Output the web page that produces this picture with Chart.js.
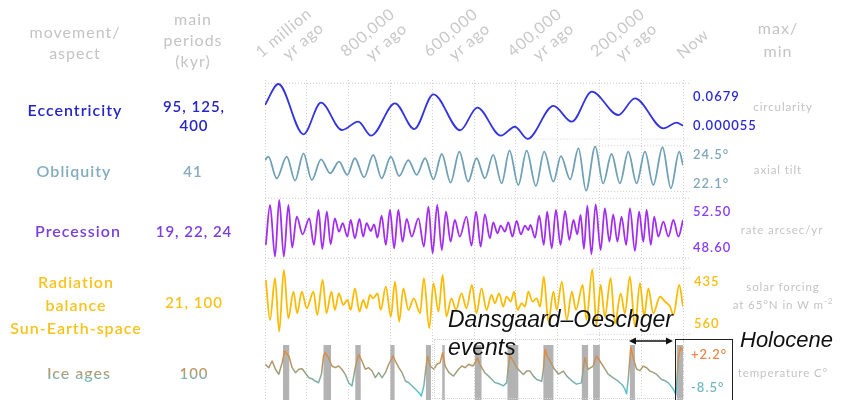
<!DOCTYPE html>
<html>
<head>
<meta charset="utf-8">
<script src="https://cdn.jsdelivr.net/npm/chart.js@4/dist/chart.umd.min.js"></script>
<style>
  body { margin: 0; width: 842px; height: 400px; overflow: hidden; position: relative; background: #fff;
         font-family: Lato, "Noto Sans", sans-serif; }
  #graphique { position: absolute; left: 0; top: 0; }
  .txt { position: absolute; white-space: nowrap; line-height: 1; letter-spacing: 1px; }
  .c { transform: translate(-50%, -50%); text-align: center; }
  .l { transform: translateY(-50%); }
  .gris { color: #c4c4c4; }
  .entete { font-size: 16px; line-height: 21px; }
  .nom { font-size: 16px; font-weight: 600; }
  .periode { font-size: 15px; line-height: 19px; font-weight: 600; }
  .valeur { font-size: 13px; font-weight: 600; }
  .desc { font-size: 11.5px; letter-spacing: 0.9px; }
  .tick { position: absolute; white-space: nowrap; font-size: 16px; line-height: 19px; letter-spacing: 0.8px;
          color: #c8c8c8; text-align: right; transform: translate(-50%, -50%) rotate(-40deg); }
  .glace { background: linear-gradient(#dd8748, #a9a079 55%, #6cc0c6); -webkit-background-clip: text;
           background-clip: text; color: transparent; }
  .note { position: absolute; white-space: nowrap; font-family: "Liberation Sans", Arial, sans-serif;
          font-style: italic; color: #111; }
</style>
</head>
<body>
<canvas id="graphique" width="842" height="400"></canvas>

<div class="txt c gris entete" style="left:75px;top:42px">movement/<br>aspect</div>
<div class="txt c gris entete" style="left:193px;top:39px">main<br>periods<br>(kyr)</div>
<div class="txt c gris entete" style="left:778px;top:39px;line-height:23px">max/<br>min</div>

<div class="txt c nom" style="left:75px;top:110px;color:#2626c6">Eccentricity</div>
<div class="txt c periode" style="left:194px;top:116px;color:#2626c6">95, 125,<br>400</div>
<div class="txt c nom" style="left:74px;top:171px;color:#83acbf">Obliquity</div>
<div class="txt c periode" style="left:193px;top:171px;color:#83acbf">41</div>
<div class="txt c nom" style="left:78px;top:231px;color:#7b3fdc">Precession</div>
<div class="txt c periode" style="left:194px;top:231px;color:#7b3fdc">19, 22, 24</div>
<div class="txt c nom" style="left:76px;top:304px;line-height:23px;color:#f7c31c">Radiation<br>balance<br>Sun-Earth-space</div>
<div class="txt c periode" style="left:194px;top:302px;color:#f7c31c">21, 100</div>
<div class="txt c nom" style="left:79px;top:373px"><span class="glace">Ice ages</span></div>
<div class="txt c periode" style="left:194px;top:373px"><span class="glace">100</span></div>

<div class="txt l valeur" style="left:693px;top:96px;color:#2a2ad6">0.0679</div>
<div class="txt l valeur" style="left:693px;top:125px;color:#2a2ad6">0.000055</div>
<div class="txt l valeur" style="left:693px;top:154px;color:#7fa8bd">24.5°</div>
<div class="txt l valeur" style="left:693px;top:183px;color:#7fa8bd">22.1°</div>
<div class="txt l valeur" style="left:693px;top:211px;color:#8a3ef0">52.50</div>
<div class="txt l valeur" style="left:693px;top:247px;color:#8a3ef0">48.60</div>
<div class="txt l valeur" style="left:694px;top:281px;color:#f8bd12">435</div>
<div class="txt l valeur" style="left:694px;top:323px;color:#f8bd12">560</div>
<div class="txt l valeur" style="left:691px;top:354px;color:#e8884a">+2.2°</div>
<div class="txt l valeur" style="left:691px;top:387px;color:#72bac0">-8.5°</div>

<div class="txt c gris desc" style="left:783px;top:107px">circularity</div>
<div class="txt c gris desc" style="left:778px;top:170px">axial tilt</div>
<div class="txt c gris desc" style="left:782px;top:230px">rate arcsec/yr</div>
<div class="txt c gris desc" style="left:783px;top:296px;line-height:14px">solar forcing<br>at 65°N in W m<sup style="font-size:8px">-2</sup></div>
<div class="txt c gris desc" style="left:783px;top:373px">temperature C°</div>

<div style="position:absolute;left:434px;top:339px;width:248px;height:58px;border:1px dotted #d4d4d4"></div>
<div class="note" style="left:448px;top:305px;font-size:23px;line-height:28px">Dansgaard–Oeschger<br>events</div>
<svg style="position:absolute;left:626px;top:334px" width="50" height="14">
  <line x1="5" y1="7" x2="45" y2="7" stroke="#111" stroke-width="1.5"/>
  <path d="M3 7 L10 3.5 L10 10.5 Z M47 7 L40 3.5 L40 10.5 Z" fill="#111"/>
</svg>
<div style="position:absolute;left:675px;top:339px;width:56px;height:80px;border:1px solid #222;border-bottom:none"></div>
<div class="note" style="left:740px;top:327px;font-size:22px;line-height:26px">Holocene</div>

<script>
/** Time ticks in kyr before present and their labels */
const tickYears = [-1000, -800, -600, -400, -200, 0];
const tickLabels = [['1 million', 'yr ago'], ['800,000', 'yr ago'], ['600,000', 'yr ago'],
                    ['400,000', 'yr ago'], ['200,000', 'yr ago'], ['Now']];

/** Eccentricity [kyr, value] */
const eccentricity = [[-1000, 0.0415], [-968, 0.0670], [-908, 0.0058], [-866, 0.0443], [-816, 0.0110],
  [-777, 0.0211], [-746, 0.0041], [-689, 0.0435], [-643, 0.0122], [-597, 0.0545], [-533, 0.0107],
  [-492, 0.0382], [-436, 0.0041], [-402, 0.0150], [-372, 0.0001], [-310, 0.0403], [-266, 0.0211],
  [-218, 0.0577], [-155, 0.0293], [-115, 0.0496], [-47, 0.0131], [-15, 0.0199], [0, 0.0163]];

/** Obliquity [kyr, degrees] */
const obliquity = [[-1000, 23.77], [-992, 23.96], [-972, 22.77], [-948, 23.96], [-928, 22.65], [-908, 24.14],
  [-888, 22.68], [-866, 23.81], [-844, 23.05], [-823, 23.68], [-803, 22.96], [-785, 23.87], [-763, 22.83],
  [-741, 24.05], [-721, 22.77], [-699, 23.96], [-679, 22.90], [-657, 23.77], [-637, 22.96], [-617, 23.87],
  [-597, 22.72], [-577, 24.10], [-556, 22.54], [-535, 24.23], [-514, 22.59], [-494, 23.87], [-474, 22.77],
  [-454, 24.05], [-434, 22.50], [-415, 24.28], [-394, 22.41], [-374, 24.28], [-352, 22.36], [-332, 24.23],
  [-310, 22.59], [-292, 23.99], [-270, 22.72], [-250, 24.41], [-232, 22.10], [-210, 24.50], [-191, 22.50],
  [-171, 24.10], [-151, 22.50], [-131, 24.23], [-111, 22.50], [-91, 24.23], [-71, 22.41], [-49, 24.47],
  [-29, 22.23], [-9, 24.23], [0, 23.50]];

/** Precession rate [kyr, arcsec/yr] */
const precession = [[-998, 49.47], [-988, 52.07], [-976, 48.71], [-966, 52.39], [-955, 48.71], [-944, 52.07],
  [-935, 49.29], [-924, 51.31], [-910, 50.16], [-894, 51.20], [-883, 49.47], [-872, 51.74], [-863, 49.21],
  [-852, 51.63], [-843, 49.51], [-833, 51.20], [-823, 50.33], [-814, 50.88], [-803, 50.01], [-795, 51.09],
  [-785, 49.90], [-774, 51.16], [-765, 50.01], [-757, 50.88], [-747, 50.38], [-739, 50.81], [-731, 49.94],
  [-721, 51.37], [-711, 49.47], [-701, 51.74], [-691, 49.25], [-681, 51.74], [-671, 49.68], [-661, 51.16],
  [-649, 50.01], [-633, 51.20], [-620, 49.36], [-609, 51.96], [-599, 48.93], [-588, 52.07], [-577, 49.14],
  [-567, 51.63], [-556, 49.68], [-546, 51.09], [-534, 50.01], [-518, 51.31], [-506, 49.42], [-495, 51.63],
  [-484, 49.36], [-474, 51.46], [-462, 49.90], [-454, 50.94], [-444, 50.23], [-436, 50.72], [-426, 50.33],
  [-418, 50.94], [-408, 50.01], [-398, 51.03], [-388, 50.16], [-378, 50.72], [-370, 50.44], [-365, 50.77],
  [-354, 49.94], [-344, 51.37], [-333, 49.47], [-325, 51.63], [-314, 49.25], [-304, 51.74], [-293, 49.47],
  [-282, 51.68], [-272, 49.79], [-262, 51.09], [-253, 50.16], [-245, 51.42], [-237, 49.21], [-229, 52.02],
  [-219, 48.86], [-209, 52.11], [-197, 49.14], [-187, 51.85], [-176, 49.68], [-167, 51.46], [-157, 49.68],
  [-147, 51.31], [-136, 49.47], [-127, 51.85], [-115, 49.08], [-105, 51.63], [-95, 49.68], [-87, 51.74],
  [-77, 49.47], [-69, 51.31], [-59, 50.01], [-47, 50.98], [-35, 50.01], [-23, 51.09], [-11, 50.01], [0, 51.09]];

/** Solar forcing at 65°N [kyr, W m-2] */
const radiation = [[-998, 457.4], [-988, 534.4], [-976, 454.2], [-966, 556.8], [-955, 438.2], [-944, 531.2],
  [-932, 479.9], [-923, 521.5], [-912, 479.9], [-900, 511.9], [-884, 479.9], [-875, 524.7], [-862, 457.4],
  [-853, 521.5], [-841, 479.9], [-833, 515.1], [-823, 483.1], [-813, 505.5], [-803, 495.9], [-795, 515.1],
  [-785, 473.5], [-774, 518.3], [-765, 495.9], [-757, 511.9], [-749, 486.3], [-741, 492.7], [-731, 483.1],
  [-723, 515.1], [-711, 470.3], [-699, 527.9], [-689, 460.6], [-679, 537.6], [-669, 473.5], [-657, 515.1],
  [-644, 492.7], [-629, 521.5], [-620, 454.2], [-607, 550.4], [-597, 463.8], [-585, 518.3], [-575, 447.8],
  [-566, 527.9], [-554, 492.7], [-543, 515.1], [-530, 483.1], [-518, 511.9], [-505, 467.1], [-494, 521.5],
  [-482, 473.5], [-470, 515.1], [-458, 486.3], [-450, 502.3], [-440, 483.1], [-430, 508.7], [-422, 489.5],
  [-412, 499.1], [-404, 479.9], [-396, 515.1], [-386, 502.3], [-378, 508.7], [-370, 479.9], [-360, 499.1],
  [-350, 492.7], [-342, 508.7], [-333, 451.0], [-322, 537.6], [-310, 479.9], [-302, 515.1], [-290, 460.6],
  [-278, 534.4], [-266, 479.9], [-256, 515.1], [-240, 467.1], [-231, 534.4], [-217, 436.9], [-207, 544.0],
  [-197, 467.1], [-187, 527.9], [-173, 454.2], [-163, 540.8], [-149, 483.1], [-139, 521.5], [-127, 451.0],
  [-115, 547.2], [-103, 463.8], [-93, 527.9], [-83, 473.5], [-71, 521.5], [-55, 489.5], [-43, 499.1],
  [-31, 508.7], [-23, 524.7], [-9, 467.1], [0, 508.7]];

/** Temperature [kyr, °C] */
const iceAges = [[-999, -1.98], [-991, -2.79], [-983, -1.20], [-975, -3.17], [-967, -4.36], [-959, -1.60],
  [-953, 1.18], [-943, -0.01], [-935, -2.79], [-927, -3.98], [-919, -3.17], [-911, -3.03], [-904, -3.98],
  [-895, -5.17], [-888, -5.41], [-880, -5.96], [-872, -6.36], [-865, -4.36], [-860, -0.01], [-856, 0.77],
  [-848, -0.42], [-840, -2.39], [-832, -2.79], [-824, -2.39], [-816, -3.17], [-808, -4.36], [-800, -6.36],
  [-792, -7.14], [-784, -2.79], [-776, 0.39], [-768, -1.20], [-760, -3.17], [-752, -2.79], [-744, -3.58],
  [-736, -5.17], [-728, -3.98], [-720, -5.17], [-712, -3.98], [-704, -1.98], [-694, -0.01], [-688, -1.20],
  [-680, -2.79], [-672, -3.98], [-664, -5.96], [-656, -6.36], [-648, -7.14], [-640, -7.93], [-632, -8.74],
  [-626, -9.52], [-620, -7.14], [-615, -2.79], [-611, -0.01], [-605, -2.39], [-596, -3.17], [-589, -1.98],
  [-581, -1.60], [-575, 0.77], [-569, -2.39], [-560, -3.98], [-549, -4.77], [-537, -3.17], [-529, -2.39],
  [-521, -2.79], [-513, -1.98], [-503, -2.40], [-497, -1.60], [-492, -0.40], [-486, -2.00], [-474, -4.00],
  [-462, -5.10], [-450, -6.30], [-440, -6.60], [-430, -7.10], [-422, -6.40], [-418, -2.80], [-414, 0.10],
  [-406, -1.20], [-398, -2.80], [-390, -3.60], [-382, -4.40], [-374, -3.60], [-366, -3.60], [-358, -4.80],
  [-350, -5.60], [-338, -6.00], [-334, -3.20], [-330, 1.60], [-325, 0.00], [-318, -1.20], [-310, -2.80],
  [-298, -4.30], [-286, -3.60], [-278, -4.80], [-266, -5.90], [-255, -6.70], [-243, -6.40], [-235, -0.40],
  [-227, -3.20], [-215, -2.40], [-207, 0.00], [-199, -1.20], [-191, -2.40], [-179, -4.30], [-167, -5.20],
  [-155, -6.00], [-145, -6.90], [-139, -7.90], [-135, -9.00], [-131, -5.50], [-125, 2.00], [-117, -1.20],
  [-111, -3.10], [-103, -3.50], [-95, -2.40], [-87, -2.80], [-79, -3.60], [-71, -3.90], [-63, -4.40],
  [-51, -5.60], [-43, -5.90], [-35, -6.40], [-23, -7.90], [-17, -9.20], [-11, -0.60], [-6, 2.00], [0, 1.20]];

/** Interglacial periods [start kyr, end kyr] */
const interglacials = [[-957, -942], [-860, -842], [-784, -771], [-700, -690], [-615, -603], [-576, -570],
  [-498, -482], [-420, -394], [-334, -310], [-242, -227], [-215, -199], [-127, -115], [-15, 0]];

/** Max/min reference lines [axis, value, start kyr] */
const refLines = [['yEcc', 0.0679, -1000], ['yEcc', 0.000055, -372], ['yObl', 24.55, -215], ['yObl', 22.05, -215],
  ['yPrec', 52.5, -1000], ['yPrec', 48.6, -1000], ['yRad', 435, -215], ['yRad', 562, -230]];

/**
 * Line dataset for one movement
 */
const serie = function(points, axe, couleur, largeur, lisse) {
  return {
    data: points.map(([x, y]) => ({ x, y })), yAxisID: axe, borderColor: couleur, borderWidth: largeur,
    pointRadius: 0, fill: false, order: 1, borderJoinStyle: 'round',
    cubicInterpolationMode: lisse ? 'monotone' : 'default', tension: 0
  };
};

/**
 * Vertical gradient for the temperature curve, from warm to cold
 */
const degradeGlace = function(context) {
  const chart = context.chart;
  const echelle = chart.scales.yIce;
  if (!chart.chartArea || !echelle) {
    return '#a39a74';
  }
  const haut = echelle.getPixelForValue(2.2);
  const bas = echelle.getPixelForValue(-8.5);
  const g = chart.ctx.createLinearGradient(0, haut, 0, bas);
  g.addColorStop(0, '#f2852f');
  g.addColorStop(0.5, '#a79b72');
  g.addColorStop(1, '#58c4d2');
  return g;
};

/** Grey interglacial bands, filled down to the bottom of the row */
const bandes = [];
interglacials.forEach(([debut, fin]) => {
  bandes.push({ x: debut, y: -10.47 }, { x: debut, y: 2.6 }, { x: fin, y: 2.6 }, { x: fin, y: -10.47 });
});

const datasets = [
  serie(eccentricity, 'yEcc', '#3434de', 1.8, true),
  serie(obliquity, 'yObl', '#6fa0b6', 1.8, true),
  serie(precession, 'yPrec', '#a22ef0', 1.8, true),
  serie(radiation, 'yRad', '#fbbb05', 1.8, true),
  serie(iceAges, 'yIce', degradeGlace, 1.5, false),
  { data: bandes, yAxisID: 'yIce', borderWidth: 0, pointRadius: 0, fill: 'start',
    backgroundColor: '#b3b3b3', order: 5 }
];

refLines.forEach(([axe, valeur, debut]) => {
  datasets.push({ data: [{ x: debut, y: valeur }, { x: 17, y: valeur }], yAxisID: axe, borderColor: '#cccccc',
    borderWidth: 1, borderDash: [1, 2], pointRadius: 0, fill: false, order: 8, clip: false });
});

/**
 * Stacked hidden y axis for one row
 */
const rangee = function(poids, min, max, inverse) {
  return { type: 'linear', position: 'right', stack: 'rangees', stackWeight: poids, min, max,
    reverse: !!inverse, display: false, grid: { display: false } };
};

const chart = new Chart(document.getElementById('graphique').getContext('2d'), {
  type: 'line',
  data: { datasets },
  options: {
    responsive: false, animation: false, events: [],
    layout: { padding: { left: 265, right: 159, top: 80, bottom: 0 } },
    plugins: { legend: { display: false }, tooltip: { enabled: false } },
    scales: {
      x: { type: 'linear', position: 'top', min: -1000, max: 0,
        ticks: { display: false, stepSize: 100 },
        grid: { color: '#d2d2d2', lineWidth: 1, drawTicks: false },
        border: { display: false, dash: [1, 2] } },
      yEcc: rangee(61, -0.00238, 0.0719),
      yObl: rangee(55, 21.81, 24.81),
      yPrec: rangee(66, 48.36, 52.65),
      yRad: rangee(77, 422.9, 571.0, true),
      yIce: rangee(61, -10.47, 4.03)
    }
  }
});

/** Rotated time labels placed on the x scale */
const echelleX = chart.scales.x;
tickYears.forEach((an, i) => {
  const div = document.createElement('div');
  div.className = 'tick';
  div.innerHTML = tickLabels[i].join('<br>');
  const deux = tickLabels[i].length > 1;
  div.style.left = `${echelleX.getPixelForValue(an) + (deux ? 24 : 9)}px`;
  div.style.top = `${deux ? 39 : 43}px`;
  document.body.appendChild(div);
});
</script>
</body>
</html>
